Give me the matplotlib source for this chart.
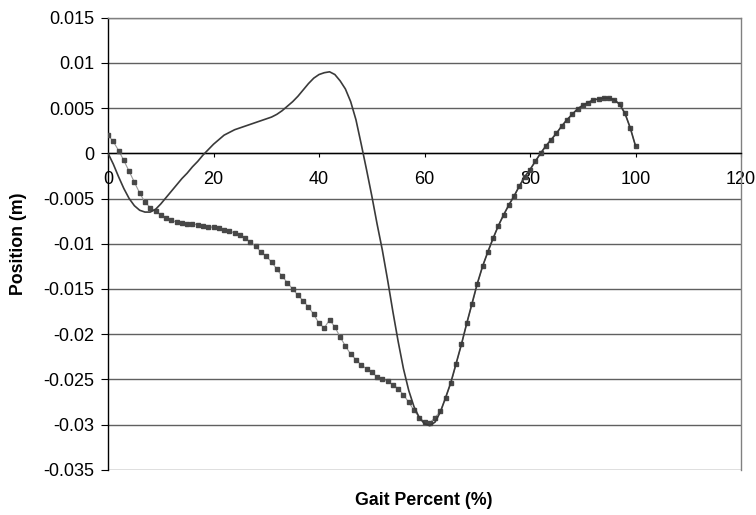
import numpy as np
import matplotlib
matplotlib.use("Agg")
import matplotlib.pyplot as plt

plt.rcParams['font.family'] = ['Liberation Sans', 'DejaVu Sans']

# gait cycle, 1% steps
gait_pct = list(range(0, 101))

# measured trajectory (markers)
measured = [
    0.0020, 0.0013, 0.0003, -0.0008, -0.0020, -0.0032, -0.0044, -0.0054, -0.0060, -0.0064,
    -0.0068, -0.0071, -0.0074, -0.0076, -0.0077, -0.0078, -0.0078, -0.0079, -0.0080, -0.0081,
    -0.0082, -0.0083, -0.0085, -0.0086, -0.0088, -0.0090, -0.0094, -0.0098, -0.0103, -0.0109,
    -0.0114, -0.0120, -0.0128, -0.0136, -0.0143, -0.0150, -0.0157, -0.0163, -0.0170, -0.0178,
    -0.0188, -0.0193, -0.0184, -0.0192, -0.0203, -0.0213, -0.0222, -0.0228, -0.0234, -0.0238,
    -0.0242, -0.0247, -0.0250, -0.0252, -0.0256, -0.0260, -0.0267, -0.0275, -0.0284, -0.0292,
    -0.0297, -0.0298, -0.0292, -0.0285, -0.0270, -0.0254, -0.0233, -0.0211, -0.0188, -0.0167,
    -0.0145, -0.0125, -0.0109, -0.0094, -0.0080, -0.0068, -0.0057, -0.0047, -0.0036, -0.0026,
    -0.0018, -0.0009, 0.0000, 0.0008, 0.0015, 0.0022, 0.0030, 0.0037, 0.0043, 0.0049,
    0.0053, 0.0056, 0.0059, 0.0060, 0.0061, 0.0061, 0.0059, 0.0054, 0.0044, 0.0028,
    0.0008,
]

# model trajectory (solid)
model = [
    0.0000, -0.0012, -0.0026, -0.0039, -0.0050, -0.0058, -0.0063, -0.0065, -0.0065, -0.0062,
    -0.0056, -0.0049, -0.0042, -0.0035, -0.0028, -0.0022, -0.0015, -0.0009, -0.0002, 0.0004,
    0.0010, 0.0015, 0.0020, 0.0023, 0.0026, 0.0028, 0.0030, 0.0032, 0.0034, 0.0036,
    0.0038, 0.0040, 0.0043, 0.0047, 0.0052, 0.0057, 0.0063, 0.0070, 0.0077, 0.0083,
    0.0087, 0.0089, 0.0090, 0.0087, 0.0080, 0.0071, 0.0057, 0.0037, 0.0010, -0.0018,
    -0.0047, -0.0078, -0.0107, -0.0140, -0.0175, -0.0208, -0.0238, -0.0262, -0.0280, -0.0292,
    -0.0299, -0.0301, -0.0297, -0.0286, -0.0270, -0.0253, -0.0232, -0.0211, -0.0188, -0.0166,
    -0.0144, -0.0125, -0.0109, -0.0094, -0.0080, -0.0068, -0.0057, -0.0047, -0.0036, -0.0026,
    -0.0018, -0.0009, 0.0000, 0.0008, 0.0015, 0.0022, 0.0030, 0.0037, 0.0043, 0.0049,
    0.0053, 0.0056, 0.0059, 0.0060, 0.0061, 0.0061, 0.0059, 0.0054, 0.0044, 0.0028,
    0.0008,
]

x_ticks = [0, 20, 40, 60, 80, 100, 120]
y_ticks = [-0.035, -0.03, -0.025, -0.02, -0.015, -0.01, -0.005, 0, 0.005, 0.01, 0.015]
y_labels = ['-0.035', '-0.03', '-0.025', '-0.02', '-0.015', '-0.01', '-0.005', '0', '0.005', '0.01', '0.015']

fig = plt.figure(figsize=(7.56, 5.15), dpi=100)
ax = fig.add_axes([0.1429, 0.0874, 0.8373, 0.8786])

ax.set_xlim(0, 120)
ax.set_ylim(-0.035, 0.015)
ax.set_yticks(y_ticks)
ax.set_yticklabels(y_labels)
ax.set_xticks(x_ticks)

for y in y_ticks:
    ax.axhline(y, color='#606060', lw=1.0, zorder=1)

ax.plot(gait_pct, measured, color='#999999', lw=0.8, zorder=2)
ax.plot(gait_pct, measured, ls='none', marker='s', ms=2.2, color='#484848', zorder=3)
ax.plot(gait_pct, model, color='#3a3a3a', lw=1.2, zorder=4)

ax.spines['bottom'].set_position(('data', 0))
ax.spines['bottom'].set_color('black')
ax.spines['left'].set_color('black')
ax.spines['top'].set_color('#808080')
ax.spines['right'].set_color('#808080')
for s in ax.spines.values():
    s.set_linewidth(1.0)

ax.tick_params(axis='x', direction='out', length=3, pad=10, labelsize=13, colors='black')
ax.tick_params(axis='y', direction='out', length=5, pad=5, labelsize=13, colors='black')

fig.text(0.561, 0.029, 'Gait Percent (%)', ha='center', va='center',
         fontsize=12.8, fontweight='bold')
fig.text(0.024, 0.526, 'Position (m)', ha='center', va='center',
         rotation=90, fontsize=12.8, fontweight='bold')

fig.savefig('out.png', dpi=100)
